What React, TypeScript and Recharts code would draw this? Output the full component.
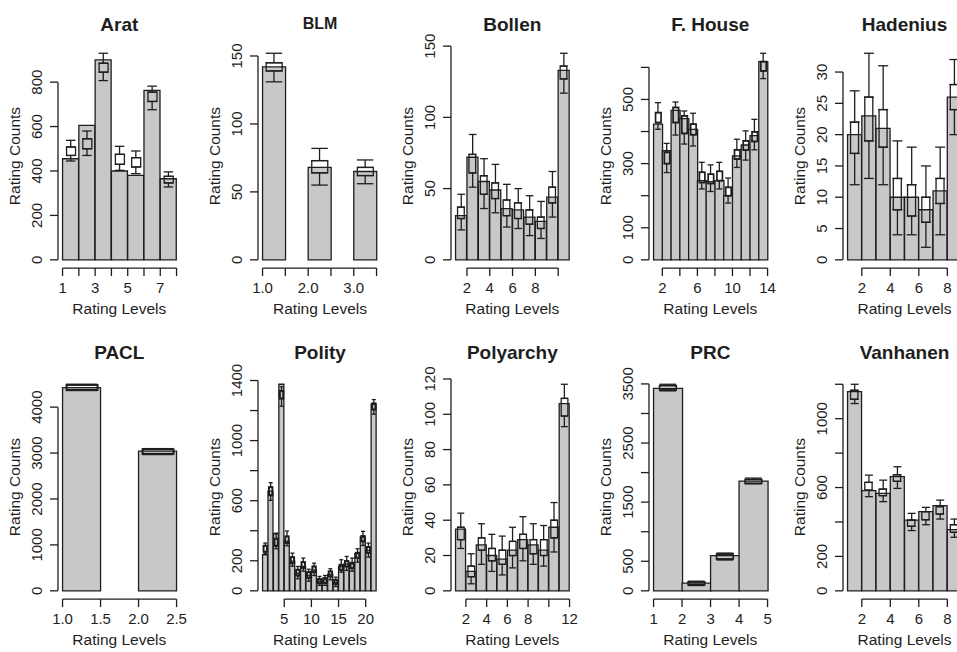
import React from 'react';
import { ComposedChart, Bar, Scatter, ErrorBar, XAxis, YAxis, ReferenceLine } from 'recharts';

// ---------- data ----------
const aratLevels = [1, 2, 3, 4, 5, 6, 7];
const aratCounts = [455, 605, 900, 400, 380, 763, 365];
const aratBox = [[470, 508], [500, 545], [845, 885], [430, 475], [418, 460], [713, 755], [346, 376]];
const aratWhisk = [[445, 538], [470, 580], [807, 930], [403, 511], [388, 490], [676, 782], [328, 396]];
const aratXTicks = [1, 2, 3, 4, 5, 6, 7, 8];
const aratXLabels = ['1', '', '3', '', '5', '', '7', ''];
const aratYTicks = [0, 200, 400, 600, 800];
const aratYLabels = ['0', '200', '400', '600', '800'];

const blmLevels = [1, 2, 3];
const blmCounts = [142, 68, 65];
const blmBox = [[139, 145], [64, 73], [62, 68]];
const blmWhisk = [[131, 152], [55, 82], [56, 73.5]];
const blmXTicks = [1, 1.5, 2, 2.5, 3, 3.5];
const blmXLabels = ['1.0', '', '2.0', '', '3.0', ''];
const blmYTicks = [0, 50, 100, 150];
const blmYLabels = ['0', '50', '100', '150'];

const bollenLevels = [1, 2, 3, 4, 5, 6, 7, 8, 9, 10];
const bollenCounts = [31, 72, 55, 49, 36, 35, 30, 27, 44, 133];
const bollenBox = [[29, 37], [61, 74], [46, 59], [43, 54], [31, 42], [29, 40], [25, 35], [22, 30], [40, 51], [127, 136]];
const bollenWhisk = [[21, 46], [51, 88], [36, 71], [33, 67], [23, 53], [22, 50], [17, 45], [15, 41], [30, 62], [117, 145]];
const bollenXTicks = [2, 4, 6, 8, 10];
const bollenXLabels = ['2', '4', '6', '8', ''];
const bollenYTicks = [0, 50, 100, 150];
const bollenYLabels = ['0', '50', '100', '150'];

const fhouseLevels = [1, 2, 3, 4, 5, 6, 7, 8, 9, 10, 11, 12, 13];
const fhouseCounts = [423, 340, 466, 440, 407, 247, 244, 247, 200, 324, 358, 387, 618];
const fhouseBox = [[428, 459], [300, 335], [428, 475], [394, 449], [390, 423], [241, 273], [238, 267], [247, 276], [200, 226], [314, 343], [342, 371], [369, 399], [589, 618]];
const fhouseWhisk = [[407, 490], [272, 363], [389, 492], [361, 464], [355, 457], [221, 304], [213, 296], [221, 304], [177, 255], [288, 376], [311, 402], [343, 438], [565, 644]];
const fhouseXTicks = [2, 4, 6, 8, 10, 12, 14];
const fhouseXLabels = ['2', '', '6', '', '10', '', '14'];
const fhouseYTicks = [0, 100, 200, 300, 400, 500, 600];
const fhouseYLabels = ['0', '100', '', '300', '', '500', ''];

const hadeniusLevels = [1, 2, 3, 4, 5, 6, 7, 8];
const hadeniusCounts = [20, 23, 21, 10, 10, 8, 11, 26];
const hadeniusBox = [[17, 22], [19, 26], [18, 24], [8, 13], [7, 12], [6, 10], [9, 13], [24, 28]];
const hadeniusWhisk = [[12, 27], [13, 33], [12, 31], [4, 19], [4, 18], [2, 15], [4, 18], [20, 32]];
const hadeniusXTicks = [2, 4, 6, 8];
const hadeniusXLabels = ['2', '4', '6', '8'];
const hadeniusYTicks = [0, 5, 10, 15, 20, 25, 30];
const hadeniusYLabels = ['0', '5', '10', '15', '20', '25', '30'];

const paclLevels = [1, 2];
const paclCounts = [4426, 3040];
const paclBox = [[4375, 4484], [2982, 3083]];
const paclWhisk = [[4361, 4498], [2967, 3097]];
const paclXTicks = [1, 1.5, 2, 2.5];
const paclXLabels = ['1.0', '1.5', '2.0', '2.5'];
const paclYTicks = [0, 1000, 2000, 3000, 4000];
const paclYLabels = ['0', '1000', '2000', '3000', '4000'];

const polityLevels = [1, 2, 3, 4, 5, 6, 7, 8, 9, 10, 11, 12, 13, 14, 15, 16, 17, 18, 19, 20, 21];
const polityCounts = [240, 664, 380, 1375, 331, 198, 118, 162, 102, 140, 64, 73, 109, 58, 162, 180, 180, 247, 358, 269, 1242];
const polityBox = [[260, 300], [636, 690], [300, 347], [1280, 1331], [318, 362], [184, 224], [102, 140], [153, 191], [87, 124], [124, 162], [51, 78], [53, 84], [96, 129], [47, 73], [140, 173], [162, 198], [151, 187], [220, 253], [329, 364], [253, 291], [1207, 1247]];
const polityWhisk = [[247, 318], [602, 720], [280, 384], [1229, 1358], [300, 398], [164, 251], [80, 162], [131, 218], [64, 144], [102, 184], [36, 96], [36, 102], [73, 147], [29, 91], [124, 207], [136, 229], [131, 218], [191, 280], [302, 396], [224, 318], [1176, 1273]];
const polityXTicks = [5, 10, 15, 20];
const polityXLabels = ['5', '10', '15', '20'];
const polityYTicks = [0, 200, 400, 600, 800, 1000, 1200, 1400];
const polityYLabels = ['0', '200', '', '600', '', '1000', '', '1400'];

const polyarchyLevels = [1, 2, 3, 4, 5, 6, 7, 8, 9, 10, 11];
const polyarchyCounts = [35, 11, 26, 20, 18, 23, 29, 26, 23, 36, 106];
const polyarchyBox = [[29, 36], [8, 14], [23, 30], [17, 24], [15, 23], [20, 28], [24, 32], [21, 29], [20, 29], [30, 40], [99, 109]];
const polyarchyWhisk = [[24, 44], [4, 21], [15, 38], [11, 32], [9, 31], [13, 36], [17, 42], [15, 38], [14, 37], [22, 50], [93, 117]];
const polyarchyXTicks = [2, 4, 6, 8, 10, 12];
const polyarchyXLabels = ['2', '4', '6', '8', '', '12'];
const polyarchyYTicks = [0, 20, 40, 60, 80, 100, 120];
const polyarchyYLabels = ['0', '20', '40', '60', '80', '100', '120'];

const prcLevels = [1, 2, 3, 4];
const prcCounts = [3426, 129, 594, 1856];
const prcBox = [[3398, 3471], [101, 151], [538, 622], [1817, 1884]];
const prcWhisk = [[3382, 3494], [90, 163], [521, 639], [1811, 1907]];
const prcXTicks = [1, 2, 3, 4, 5];
const prcXLabels = ['1', '2', '3', '4', '5'];
const prcYTicks = [0, 500, 1000, 1500, 2000, 2500, 3000, 3500];
const prcYLabels = ['0', '500', '', '1500', '', '2500', '', '3500'];

const vanhanenLevels = [1, 2, 3, 4, 5, 6, 7, 8];
const vanhanenCounts = [1157, 582, 566, 663, 411, 460, 495, 355];
const vanhanenBox = [[1113, 1165], [585, 630], [553, 591], [636, 674], [375, 411], [413, 460], [446, 489], [340, 384]];
const vanhanenWhisk = [[1088, 1200], [547, 672], [518, 643], [595, 721], [350, 450], [384, 485], [417, 527], [311, 417]];
const vanhanenXTicks = [2, 4, 6, 8];
const vanhanenXLabels = ['2', '4', '6', '8'];
const vanhanenYTicks = [0, 200, 400, 600, 800, 1000, 1200];
const vanhanenYLabels = ['0', '200', '', '600', '', '1000', ''];

// ---------- layout / style ----------
const FONT = '"Liberation Sans", Arial, Helvetica, sans-serif';
const INK = '#1e1e1e';
const BAR_FILL = '#c8c8c8';
const SW = 1.3;
const COL_BAR_START = [62.3, 263, 455.3, 653.3, 847.5];
const ROW_PLOT_TOP = [44.5, 375.5];
const DATA_PX = 114;
const PW = DATA_PX * 1.08;
const PH = 223.1;
const ML = 62;
const MT = 40;
const MR = 8;
const MB = 55;

type Panel = {
  title: string; titleSize: number; row: number; col: number;
  levels: number[]; barW: number; counts: number[]; box: number[][]; whisk: number[][];
  xTicks: number[]; xLabels: string[]; yTicks: number[]; yLabels: string[];
  boxPx: number; capPx: number; boxSW: number;
};

const panels: Panel[] = [
  { title: 'Arat', titleSize: 19, row: 0, col: 0, levels: aratLevels, barW: 1, counts: aratCounts, box: aratBox, whisk: aratWhisk, xTicks: aratXTicks, xLabels: aratXLabels, yTicks: aratYTicks, yLabels: aratYLabels, boxPx: 9, capPx: 9.5, boxSW: 1.3 },
  { title: 'BLM', titleSize: 16, row: 0, col: 1, levels: blmLevels, barW: 0.5, counts: blmCounts, box: blmBox, whisk: blmWhisk, xTicks: blmXTicks, xLabels: blmXLabels, yTicks: blmYTicks, yLabels: blmYLabels, boxPx: 16, capPx: 16.5, boxSW: 1.3 },
  { title: 'Bollen', titleSize: 19, row: 0, col: 2, levels: bollenLevels, barW: 1, counts: bollenCounts, box: bollenBox, whisk: bollenWhisk, xTicks: bollenXTicks, xLabels: bollenXLabels, yTicks: bollenYTicks, yLabels: bollenYLabels, boxPx: 6.7, capPx: 7.7, boxSW: 1.3 },
  { title: 'F. House', titleSize: 19, row: 0, col: 3, levels: fhouseLevels, barW: 1, counts: fhouseCounts, box: fhouseBox, whisk: fhouseWhisk, xTicks: fhouseXTicks, xLabels: fhouseXLabels, yTicks: fhouseYTicks, yLabels: fhouseYLabels, boxPx: 5.5, capPx: 6, boxSW: 1.7 },
  { title: 'Hadenius', titleSize: 19, row: 0, col: 4, levels: hadeniusLevels, barW: 1, counts: hadeniusCounts, box: hadeniusBox, whisk: hadeniusWhisk, xTicks: hadeniusXTicks, xLabels: hadeniusXLabels, yTicks: hadeniusYTicks, yLabels: hadeniusYLabels, boxPx: 8, capPx: 10, boxSW: 1.3 },
  { title: 'PACL', titleSize: 19, row: 1, col: 0, levels: paclLevels, barW: 0.5, counts: paclCounts, box: paclBox, whisk: paclWhisk, xTicks: paclXTicks, xLabels: paclXLabels, yTicks: paclYTicks, yLabels: paclYLabels, boxPx: 31, capPx: 31, boxSW: 2 },
  { title: 'Polity', titleSize: 19, row: 1, col: 1, levels: polityLevels, barW: 1, counts: polityCounts, box: polityBox, whisk: polityWhisk, xTicks: polityXTicks, xLabels: polityXLabels, yTicks: polityYTicks, yLabels: polityYLabels, boxPx: 3.4, capPx: 4, boxSW: 2 },
  { title: 'Polyarchy', titleSize: 19, row: 1, col: 2, levels: polyarchyLevels, barW: 1, counts: polyarchyCounts, box: polyarchyBox, whisk: polyarchyWhisk, xTicks: polyarchyXTicks, xLabels: polyarchyXLabels, yTicks: polyarchyYTicks, yLabels: polyarchyYLabels, boxPx: 6.7, capPx: 7, boxSW: 1.3 },
  { title: 'PRC', titleSize: 19, row: 1, col: 3, levels: prcLevels, barW: 1, counts: prcCounts, box: prcBox, whisk: prcWhisk, xTicks: prcXTicks, xLabels: prcXLabels, yTicks: prcYTicks, yLabels: prcYLabels, boxPx: 16.7, capPx: 16.7, boxSW: 1.6 },
  { title: 'Vanhanen', titleSize: 19, row: 1, col: 4, levels: vanhanenLevels, barW: 1, counts: vanhanenCounts, box: vanhanenBox, whisk: vanhanenWhisk, xTicks: vanhanenXTicks, xLabels: vanhanenXLabels, yTicks: vanhanenYTicks, yLabels: vanhanenYLabels, boxPx: 7.3, capPx: 8, boxSW: 1.3 },
];

const emptyShape = () => <g />;

function makeBoxShape(sw: number) {
  return (props: any) => {
    const { x, y, width, height } = props;
    if (x == null || y == null || width == null || height == null) return <g />;
    const top = Math.min(y, y + height);
    const h = Math.abs(height);
    return <rect x={x} y={top} width={width} height={h} fill="none" stroke={INK} strokeWidth={sw} />;
  };
}

function makeXTick(ticks: number[], labels: string[]) {
  return (props: any) => {
    const { x, y, payload } = props;
    const i = ticks.indexOf(Number(payload.value));
    const lab = i >= 0 ? labels[i] : '';
    return (
      <text x={x} y={y + 17} textAnchor="middle" fontSize={15} fill={INK} fontFamily={FONT}>{lab}</text>
    );
  };
}

function makeYTick(ticks: number[], labels: string[]) {
  return (props: any) => {
    const { x, y, payload } = props;
    const i = ticks.indexOf(Number(payload.value));
    const lab = i >= 0 ? labels[i] : '';
    const bx = x - 7.5;
    return (
      <text x={bx} y={y} transform={`rotate(-90 ${bx} ${y})`} textAnchor="middle" fontSize={15} fill={INK} fontFamily={FONT}>{lab}</text>
    );
  };
}

function PanelChart({ p }: { p: Panel }) {
  const xmin = p.levels[0];
  const xmax = p.levels[p.levels.length - 1] + p.barW;
  const d = xmax - xmin;
  const xDom: [number, number] = [xmin - 0.04 * d, xmax + 0.04 * d];
  const M = Math.max(...p.counts, ...p.whisk.map((w) => w[1]));
  const yDom: [number, number] = [-0.04 * M, 1.04 * M];
  const data = p.levels.map((lv, i) => ({
    x: lv + p.barW / 2,
    count: p.counts[i],
    box: [p.box[i][0], p.box[i][1]],
    top: p.box[i][1],
    bot: p.box[i][0],
    errTop: [0, p.whisk[i][1] - p.box[i][1]],
    errBot: [p.box[i][0] - p.whisk[i][0], 0],
  }));
  const axisX = COL_BAR_START[p.col] - 0.04 * DATA_PX;
  const plotTop = ROW_PLOT_TOP[p.row];
  const W = ML + PW + MR;
  const H = MT + PH + MB;
  const lastY = p.yTicks[p.yTicks.length - 1];
  return (
    <div style={{ position: 'absolute', left: axisX - ML, top: plotTop - MT, width: W, height: H }}>
      <ComposedChart
        width={W}
        height={H}
        data={data}
        margin={{ top: MT, right: MR, bottom: 0, left: 0 }}
        barCategoryGap={p.barW < 1 ? '25%' : '0%'}
        barGap={0}
      >
        <XAxis
          xAxisId="x"
          dataKey="x"
          type="number"
          domain={xDom}
          ticks={p.xTicks}
          interval={0}
          allowDataOverflow
          axisLine={false}
          tickSize={8}
          tickMargin={0}
          tickLine={{ stroke: INK, strokeWidth: SW }}
          tick={makeXTick(p.xTicks, p.xLabels)}
          height={MB}
        />
        <XAxis xAxisId="b" dataKey="x" type="number" domain={xDom} allowDataOverflow hide orientation="top" height={0} />
        <YAxis
          yAxisId="y"
          type="number"
          domain={yDom}
          ticks={p.yTicks}
          interval={0}
          allowDataOverflow
          axisLine={false}
          tickSize={8}
          tickMargin={0}
          tickLine={{ stroke: INK, strokeWidth: SW }}
          tick={makeYTick(p.yTicks, p.yLabels)}
          width={ML}
        />
        <Bar xAxisId="x" yAxisId="y" dataKey="count" fill={BAR_FILL} stroke={INK} strokeWidth={SW} isAnimationActive={false} />
        <Bar xAxisId="b" yAxisId="y" dataKey="box" barSize={p.boxPx} shape={makeBoxShape(p.boxSW)} isAnimationActive={false} />
        <Scatter xAxisId="x" yAxisId="y" dataKey="top" shape={emptyShape} isAnimationActive={false}>
          <ErrorBar dataKey="errTop" direction="y" width={p.capPx / 2} stroke={INK} strokeWidth={SW} isAnimationActive={false} />
        </Scatter>
        <Scatter xAxisId="x" yAxisId="y" dataKey="bot" shape={emptyShape} isAnimationActive={false}>
          <ErrorBar dataKey="errBot" direction="y" width={p.capPx / 2} stroke={INK} strokeWidth={SW} isAnimationActive={false} />
        </Scatter>
        <ReferenceLine
          xAxisId="x"
          yAxisId="y"
          segment={[{ x: xDom[0], y: 0 }, { x: xDom[0], y: lastY }]}
          stroke={INK}
          strokeWidth={SW}
          ifOverflow="visible"
        />
        <ReferenceLine
          xAxisId="x"
          yAxisId="y"
          segment={[{ x: p.xTicks[0], y: yDom[0] }, { x: p.xTicks[p.xTicks.length - 1], y: yDom[0] }]}
          stroke={INK}
          strokeWidth={SW}
          ifOverflow="visible"
        />
      </ComposedChart>
    </div>
  );
}

function Labels() {
  return (
    <svg width={957} height={652} style={{ position: 'absolute', left: 0, top: 0, pointerEvents: 'none' }}>
      {panels.map((p) => {
        const axisX = COL_BAR_START[p.col] - 0.04 * DATA_PX;
        const plotTop = ROW_PLOT_TOP[p.row];
        const cx = axisX + PW / 2;
        const titleY = p.row === 0 ? (p.titleSize < 19 ? 29 : 30.7) : 358.5;
        const xlabY = plotTop + PH + 46.5;
        const ylx = axisX - 38;
        const yly = plotTop + PH / 2;
        return (
          <g key={p.title} fontFamily={FONT} fill={INK}>
            <text x={cx} y={titleY} textAnchor="middle" fontWeight="bold" fontSize={p.titleSize}>{p.title}</text>
            <text x={cx} y={xlabY} textAnchor="middle" fontSize={15.5}>Rating Levels</text>
            <text x={ylx} y={yly} transform={`rotate(-90 ${ylx} ${yly})`} textAnchor="middle" fontSize={15.5}>Rating Counts</text>
          </g>
        );
      })}
    </svg>
  );
}

export default function App() {
  return (
    <div style={{ position: 'absolute', left: 0, top: 0, width: 957, height: 652, overflow: 'hidden', background: '#fff' }}>
      {panels.map((p) => (
        <PanelChart key={p.title} p={p} />
      ))}
      <Labels />
    </div>
  );
}
